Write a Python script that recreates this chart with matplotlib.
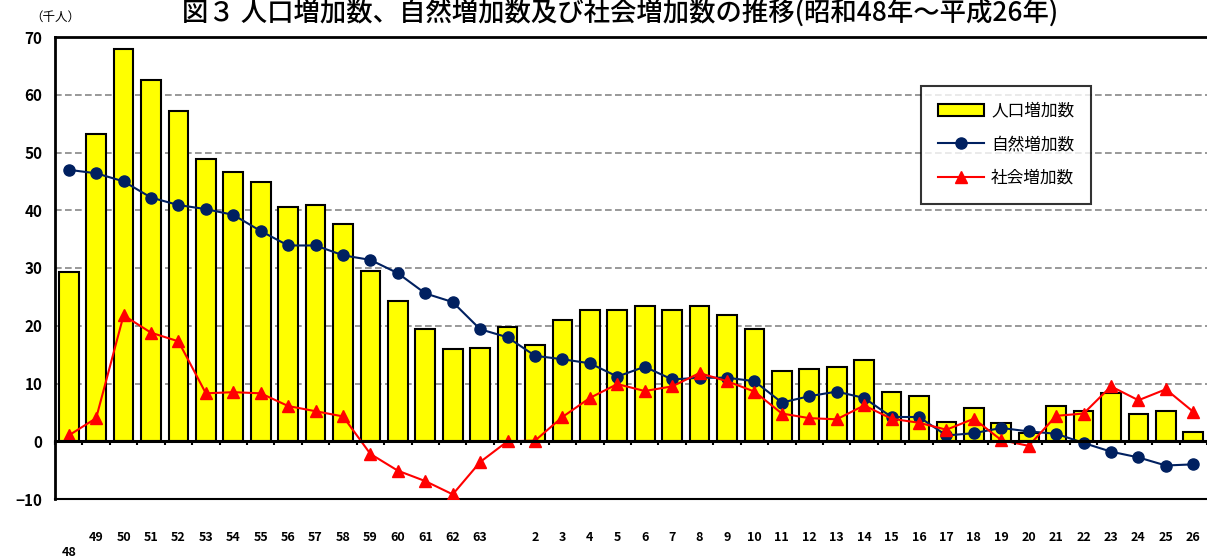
import numpy as np
import matplotlib
matplotlib.use("Agg")
import matplotlib.pyplot as plt

plt.rcParams['font.family'] = ['Noto Sans CJK JP', 'DejaVu Sans']

# 昭和48年～63年, 平成元年～26年
years = ['48', '49', '50', '51', '52', '53', '54', '55', '56', '57', '58', '59',
         '60', '61', '62', '63', '', '2', '3', '4', '5', '6', '7', '8', '9', '10',
         '11', '12', '13', '14', '15', '16', '17', '18', '19', '20', '21', '22',
         '23', '24', '25', '26']

# 人口増加数 (千人)
total = [29.3, 53.2, 68.0, 62.6, 57.1, 48.9, 46.7, 44.9, 40.6, 40.9, 37.6, 29.5,
         24.3, 19.4, 15.9, 16.2, 19.7, 16.7, 21.0, 22.8, 22.8, 23.4, 22.8, 23.4,
         21.9, 19.4, 12.2, 12.5, 12.8, 14.0, 8.5, 7.9, 3.3, 5.8, 3.1, 1.5,
         6.1, 5.2, 8.3, 4.8, 5.2, 1.6]

# 自然増加数
natural = [47.0, 46.4, 45.0, 42.2, 40.9, 40.2, 39.2, 36.4, 33.9, 33.9, 32.2, 31.4,
           29.1, 25.6, 24.1, 19.4, 18.0, 14.8, 14.2, 13.5, 11.2, 12.9, 10.7, 11.0,
           11.0, 10.4, 6.7, 7.8, 8.6, 7.5, 4.2, 4.2, 1.0, 1.4, 2.3, 1.7,
           1.3, -0.3, -1.8, -2.8, -4.2, -4.0]

# 社会増加数
social = [1.0, 4.0, 21.8, 18.8, 17.3, 8.3, 8.5, 8.3, 6.1, 5.2, 4.3, -2.2,
          -5.1, -6.9, -9.2, -3.6, 0.0, 0.1, 4.2, 7.5, 9.9, 8.7, 9.5, 11.8,
          10.4, 8.6, 4.8, 4.0, 3.8, 6.2, 3.9, 3.2, 2.0, 3.9, 0.2, -0.8,
          4.4, 4.8, 9.5, 7.1, 9.0, 5.1]

x = np.arange(len(years))

fig = plt.figure(figsize=(12.07, 5.60), dpi=100)
ax = fig.add_axes([55 / 1207, 61 / 560, 1 - 55 / 1207, 462 / 560])

bars = ax.bar(x, total, width=0.72, color='#FFFF00', edgecolor='black', linewidth=1.5,
              label='人口増加数', zorder=2)
ln1, = ax.plot(x, natural, color='#002060', marker='o', markersize=8, linewidth=1.5,
               label='自然増加数', zorder=3)
ln2, = ax.plot(x, social, color='#FF0000', marker='^', markersize=8, linewidth=1.5,
               label='社会増加数', zorder=4)

ax.set_xlim(-0.5, len(years) - 0.5)
ax.set_ylim(-10, 70)
ax.set_yticks(range(-10, 80, 10))
ax.set_yticklabels(['−10'] + [str(v) for v in range(0, 80, 10)])
ax.yaxis.grid(True, linestyle=(0, (4, 2)), color='#888888', linewidth=1.2, zorder=0)
ax.set_axisbelow(True)

ax.tick_params(axis='y', length=0, pad=9, labelsize=11)
for lb in ax.get_yticklabels():
    lb.set_fontweight('bold')

ax.set_xticks(x)
xl = list(years)
xl[0] = '\n48'
ax.set_xticklabels(xl, fontsize=9, fontweight='bold', linespacing=1.25)
ax.tick_params(axis='x', length=0, pad=23)

for s in ['left', 'top']:
    ax.spines[s].set_linewidth(2)
ax.spines['bottom'].set_linewidth(1.5)
ax.spines['right'].set_visible(False)

# zero line with category boundary ticks
zax = ax.secondary_xaxis(10 / 80)
zax.set_xticks(np.arange(len(years) + 1) - 0.5)
zax.set_xticklabels([])
zax.tick_params(length=3, width=1.5, direction='out')
zax.spines['bottom'].set_linewidth(2.2)
zax.set_zorder(5)

leg = ax.legend([bars, ln1, ln2], ['人口増加数', '自然増加数', '社会増加数'],
                loc='upper left', bbox_to_anchor=(866 / 1152, (499 - 86) / 462),
                fontsize=12, frameon=True, fancybox=False, edgecolor='black',
                borderpad=1.0, labelspacing=1.0, handlelength=2.8,
                handletextpad=0.4, borderaxespad=0)
leg.get_frame().set_linewidth(1.5)

fig.text(620 / 1207, 1.0, '図３ 人口増加数、自然増加数及び社会増加数の推移(昭和48年～平成26年)',
         ha='center', va='top', fontsize=19, fontweight='medium')
fig.text(30 / 1207, 1 - 17 / 560, '（千人）', ha='left', va='center', fontsize=9)

fig.savefig('out.png', dpi=100)
